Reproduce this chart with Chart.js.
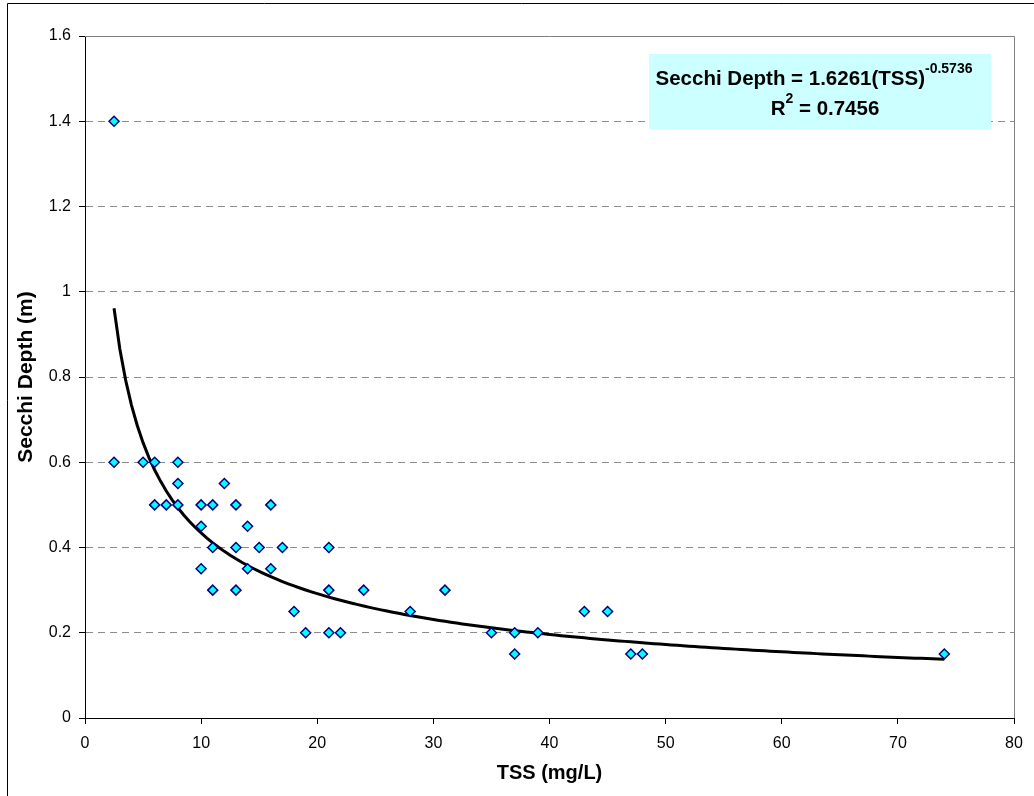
<!DOCTYPE html>
<html>
<head>
<meta charset="utf-8">
<script src="https://cdn.jsdelivr.net/npm/chart.js@4/dist/chart.umd.min.js"></script>
<style>
    html, body { margin: 0; padding: 0; background: #fff; }
    #wrap { width: 1034px; height: 796px; }
</style>
</head>
<body>
<div id="wrap"><canvas id="chart-secchi" width="1034" height="796"></canvas></div>
<script>
// measured points (TSS mg/L, Secchi depth m)
const tss = [
    2.5, 2.5, 5, 6, 8,
    8, 12,
    6, 7, 8, 10, 11, 13, 16,
    10, 14,
    11, 13, 15, 17, 21,
    10, 14, 16,
    11, 13, 21, 24, 31,
    18, 28, 43, 45,
    19, 21, 22, 35, 37, 39,
    37, 47, 48, 74,
]
const secchi = [
    1.4, 0.6, 0.6, 0.6, 0.6,
    0.55, 0.55,
    0.5, 0.5, 0.5, 0.5, 0.5, 0.5, 0.5,
    0.45, 0.45,
    0.4, 0.4, 0.4, 0.4, 0.4,
    0.35, 0.35, 0.35,
    0.3, 0.3, 0.3, 0.3, 0.3,
    0.25, 0.25, 0.25, 0.25,
    0.2, 0.2, 0.2, 0.2, 0.2, 0.2,
    0.15, 0.15, 0.15, 0.15,
]

// power trendline as printed on the chart
const FIT_A = 1.6261
const FIT_B = -0.5736
const FIT_R2 = '0.7456'
const fitFrom = 2.5
const fitTo = 74

const X_TICKS = [0, 80, 10]
const Y_TICKS = [0, 1.6, 0.2]

const points = tss.map((x, i) => ({ x: x, y: secchi[i] }))

const fitLine = []
for (let x = fitFrom; x <= fitTo + 1e-9; x += 0.5) {
    fitLine.push({ x: x, y: FIT_A * Math.pow(x, FIT_B) })
}

const frame = {
    id: 'frame',
    beforeDraw(chart) {
        const ctx = chart.ctx
        ctx.save()
        ctx.strokeStyle = '#000'
        ctx.lineWidth = 1
        ctx.beginPath()
        ctx.moveTo(7.5, 800)
        ctx.lineTo(7.5, 3.5)
        ctx.lineTo(1040, 3.5)
        ctx.stroke()
        ctx.restore()
    },
    afterDatasetsDraw(chart) {
        const { ctx, chartArea: a } = chart
        ctx.save()
        ctx.strokeStyle = '#808080'
        ctx.lineWidth = 1
        ctx.beginPath()
        ctx.moveTo(a.left, Math.round(a.top) + 0.5)
        ctx.lineTo(Math.round(a.right) + 0.5, Math.round(a.top) + 0.5)
        ctx.lineTo(Math.round(a.right) + 0.5, a.bottom)
        ctx.stroke()

        // equation box
        ctx.fillStyle = '#ccffff'
        ctx.fillRect(649, 54, 342, 75)
        ctx.fillStyle = '#000'
        ctx.textBaseline = 'alphabetic'
        const big = 'bold 20.5px "Liberation Sans", Arial, sans-serif'
        const small = 'bold 14px "Liberation Sans", Arial, sans-serif'

        let t1 = 'Secchi Depth = ' + FIT_A + '(TSS)'
        let e1 = String(FIT_B)
        ctx.font = big
        let w1 = ctx.measureText(t1).width
        ctx.font = small
        let we1 = ctx.measureText(e1).width
        let x1 = 814 - (w1 + we1) / 2
        ctx.font = big
        ctx.fillText(t1, x1, 85)
        ctx.font = small
        ctx.fillText(e1, x1 + w1, 73)

        let t2a = 'R'
        let e2 = '2'
        let t2b = ' = ' + FIT_R2
        ctx.font = big
        let wa = ctx.measureText(t2a).width
        let wb = ctx.measureText(t2b).width
        ctx.font = small
        let we2 = ctx.measureText(e2).width
        let x2 = 825 - (wa + we2 + wb) / 2
        ctx.font = big
        ctx.fillText(t2a, x2, 115)
        ctx.font = small
        ctx.fillText(e2, x2 + wa, 103)
        ctx.font = big
        ctx.fillText(t2b, x2 + wa + we2, 115)
        ctx.restore()
    },
}

const tickFont = { family: '"Liberation Sans", Arial, sans-serif', size: 16 }
const FONT = '"Liberation Sans", Arial, sans-serif'

const chartSecchi = new Chart(document.getElementById('chart-secchi'), {
    type: 'scatter',
    data: {
        datasets: [
            {
                label: 'Secchi',
                data: points,
                pointStyle: 'rectRot',
                pointRadius: 5,
                pointHoverRadius: 5,
                backgroundColor: '#00ffff',
                borderColor: '#000080',
                borderWidth: 1.5,
                order: 1,
            },
            {
                label: 'Power fit',
                data: fitLine,
                showLine: true,
                pointRadius: 0,
                borderColor: '#000',
                borderWidth: 3,
                tension: 0,
                order: 2,
            },
        ],
    },
    options: {
        responsive: false,
        animation: false,
        events: [],
        layout: {
            padding: { left: 0, right: 20, top: 36, bottom: 0 },
        },
        plugins: {
            legend: { display: false },
            tooltip: { enabled: false },
        },
        scales: {
            x: {
                type: 'linear',
                min: X_TICKS[0],
                max: X_TICKS[1],
                ticks: {
                    stepSize: X_TICKS[2],
                    color: '#000',
                    font: tickFont,
                    padding: 10,
                    maxRotation: 0,
                },
                grid: {
                    drawOnChartArea: false,
                    drawTicks: true,
                    tickLength: 6,
                    tickColor: '#000',
                },
                border: { color: '#000', width: 1 },
                title: {
                    display: true,
                    text: 'TSS (mg/L)',
                    color: '#000',
                    font: { family: FONT, size: 20, weight: 'bold' },
                    padding: { top: 0, bottom: 11 },
                },
                afterFit: (scale) => { scale.height = 78 },
            },
            y: {
                type: 'linear',
                min: Y_TICKS[0],
                max: Y_TICKS[1],
                ticks: {
                    stepSize: Y_TICKS[2],
                    color: '#000',
                    font: tickFont,
                    padding: 8,
                    callback: (v) => String(+v.toFixed(1)),
                },
                grid: {
                    drawTicks: true,
                    tickLength: 6,
                    tickColor: '#000',
                    tickBorderDash: [],
                    color: (c) => (c.tick && c.tick.value > 0 && c.tick.value < 1.6 ? '#8c8c8c' : 'rgba(0,0,0,0)'),
                },
                border: { color: '#000', width: 1, dash: [7, 5] },
                title: {
                    display: true,
                    text: 'Secchi Depth (m)',
                    color: '#000',
                    font: { family: FONT, size: 21, weight: 'bold' },
                    padding: { top: 14, bottom: 0 },
                },
                afterFit: (scale) => { scale.width = 85 },
            },
        },
    },
    plugins: [frame],
})
</script>
</body>
</html>
